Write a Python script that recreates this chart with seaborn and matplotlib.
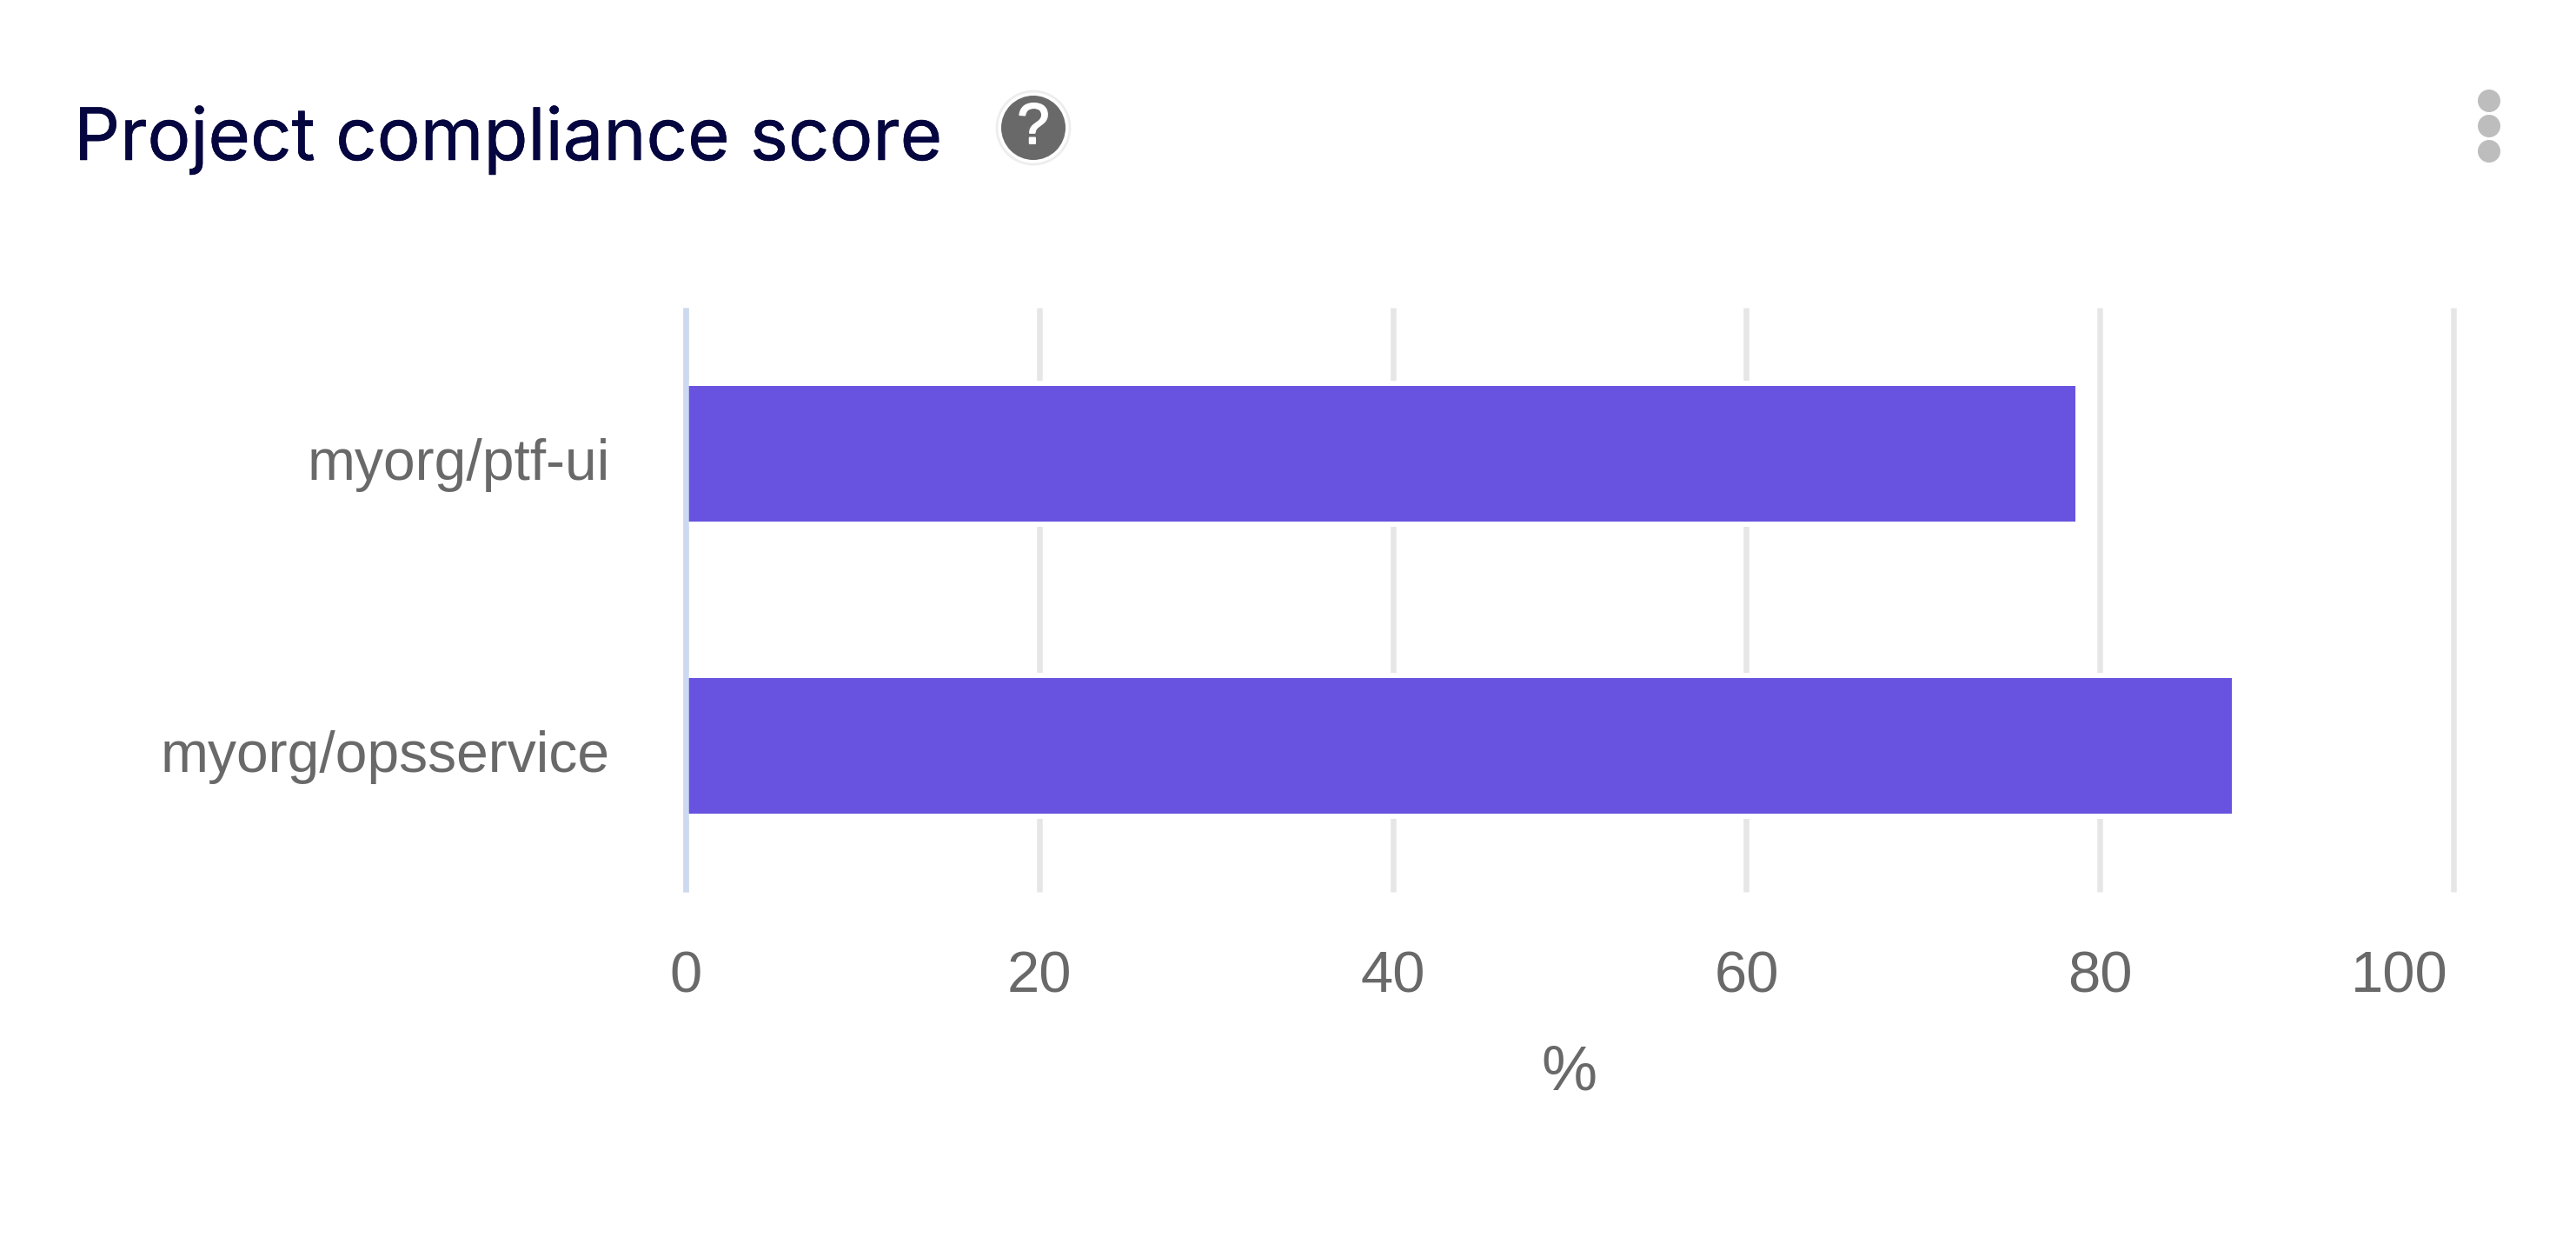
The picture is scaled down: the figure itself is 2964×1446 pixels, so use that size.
import numpy as np
import pandas as pd
import seaborn as sns
import matplotlib.pyplot as plt
import matplotlib.patheffects as pe
from matplotlib.patches import Circle
from matplotlib.transforms import ScaledTranslation

projects = ['myorg/ptf-ui', 'myorg/opsservice']
scores = [78.6, 87.45]
x_ticks = [0, 20, 40, 60, 80, 100]

W, H, DPI = 2964, 1446, 200
px = 72 / DPI  # pixels to points

sns.set_theme(style='white')
plt.rcParams['font.family'] = ['Liberation Sans', 'DejaVu Sans']

fig = plt.figure(figsize=(W / DPI, H / DPI), dpi=DPI, facecolor='white')

# plot area, from the pixel box of the reference
left, right, top, bottom = 789, 2823, 354, 1026
ax = fig.add_axes([left / W, 1 - bottom / H, (right - left) / W, (bottom - top) / H])

df = pd.DataFrame({'project': projects, 'score': scores})
sns.barplot(data=df, x='score', y='project', orient='h', color='#6753DF', saturation=1,
            width=0.464, ax=ax, zorder=3)
# white halo around the bars interrupts the grid lines
for bar in ax.patches:
    bar.set_linewidth(0)
    bar.set_path_effects([pe.withStroke(linewidth=12 * px, foreground='white')])

ax.set_xlim(0, 100)
ax.set_ylim(1.5, -0.5)
ax.set_xticks(x_ticks)
ax.set_axisbelow(True)
ax.grid(axis='x', color='#E6E6E6', linewidth=6.5 * px)
ax.grid(axis='y', visible=False)
for gl in ax.get_xgridlines():
    gl.set_solid_capstyle('butt')
    gl.set_clip_on(False)

for name in ['top', 'right', 'bottom']:
    ax.spines[name].set_visible(False)
ax.spines['left'].set_color('#CDD9F0')
ax.spines['left'].set_linewidth(6.5 * px)
ax.spines['left'].set_zorder(5)
ax.spines['left'].set_capstyle('butt')

ax.tick_params(axis='x', length=0, pad=68 * px, labelsize=67 * px, labelcolor='#696969')
ax.tick_params(axis='y', length=0, pad=87 * px, labelsize=66 * px, labelcolor='#696969')

# last tick label sits inside the plot's right edge
last = ax.get_xticklabels()[-1]
last.set_ha('right')
last.set_transform(last.get_transform() + ScaledTranslation(-6 / DPI, 0, fig.dpi_scale_trans))
# y labels sit a little lower than the bar centres
for lab in ax.get_yticklabels():
    lab.set_transform(lab.get_transform() + ScaledTranslation(0, -6 / DPI, fig.dpi_scale_trans))

ax.set_ylabel('')
ax.set_xlabel('%', fontsize=72 * px, color='#696969')
ax.xaxis.set_label_coords((1805 - left) / (right - left), -(1201 - bottom) / (bottom - top))
ax.xaxis.label.set_va('top')

# header, in reference pixels
over = fig.add_axes([0, 0, 1, 1], facecolor='none')
over.set_xlim(0, W)
over.set_ylim(H, 0)
over.axis('off')
title = over.text(85, 184, 'Project compliance score', fontsize=83.2 * px, color='#05053F',
                  family=['Inter', 'DejaVu Sans'], va='baseline', ha='left')
title.set_path_effects([pe.withStroke(linewidth=0.5 * px, foreground='#05053F')])
over.add_patch(Circle((1189, 147), 42, facecolor='white', edgecolor='#EDEDED', linewidth=1))
over.add_patch(Circle((1189, 147), 37, facecolor='#696969', edgecolor='none'))
mark = over.text(1189, 148, '?', fontsize=66 * px, color='white', ha='center', va='center',
                 family=['Liberation Sans'])
mark.set_path_effects([pe.withStroke(linewidth=2 * px, foreground='white')])
for cy in [116, 145, 174]:
    over.add_patch(Circle((2864, cy), 13, facecolor='#BDBDBD', edgecolor='none'))

fig.savefig('out.png', dpi=DPI, facecolor='white')
